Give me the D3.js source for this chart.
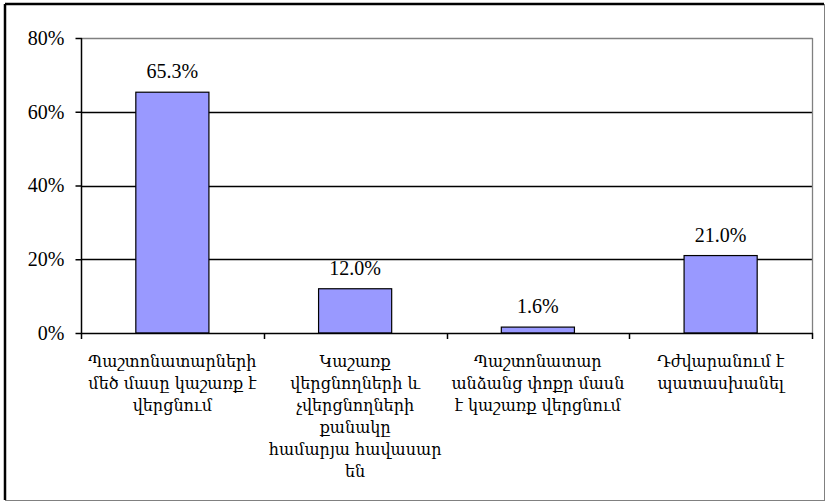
<!DOCTYPE html>
<html>
<head>
<meta charset="utf-8">
<script src="https://cdn.jsdelivr.net/npm/d3@7"></script>
<style>
  html, body { margin: 0; padding: 0; background: #fff; }
  svg { display: block; }
</style>
</head>
<body>
<svg id="chart" width="825" height="501"></svg>
<script>
// ---- data ----
const categories = ["c1", "c2", "c3", "c4"];
const categoryLines = [
  ["Պաշտոնատարների", "մեծ մասը կաշառք է", "վերցնում"],
  ["Կաշառք", "վերցնողների և", "չվերցնողների", "քանակը", "համարյա հավասար", "են"],
  ["Պաշտոնատար", "անձանց փոքր մասն", "է կաշառք վերցնում"],
  ["Դժվարանում է", "պատասխանել"]
];
const values = [65.3, 12.0, 1.6, 21.0];
const valueLabels = ["65.3%", "12.0%", "1.6%", "21.0%"];
const yTicks = [0, 20, 40, 60, 80];
const yTickLabels = ["0%", "20%", "40%", "60%", "80%"];

// ---- layout ----
const W = 825, H = 501;
const plot = { left: 81, right: 812, top: 38, bottom: 333 };
const serif = "'Liberation Serif', 'Times New Roman', 'DejaVu Serif', serif";
const armFont = "'DejaVu Serif', 'Liberation Serif', serif";

const svg = d3.select("#chart");

// outer frame
svg.append("rect").attr("x", 0).attr("y", 0).attr("width", W).attr("height", H).attr("fill", "#fff");
svg.append("line").attr("x1", 5).attr("x2", 824).attr("y1", 4).attr("y2", 4)
  .attr("stroke", "#000").attr("stroke-width", 2.5);
svg.append("line").attr("x1", 5).attr("x2", 5).attr("y1", 4).attr("y2", 500)
  .attr("stroke", "#000").attr("stroke-width", 2.5);
svg.append("line").attr("x1", 5).attr("x2", 825).attr("y1", 500.5).attr("y2", 500.5)
  .attr("stroke", "#808080").attr("stroke-width", 1);
svg.append("line").attr("x1", 824.5).attr("x2", 824.5).attr("y1", 4).attr("y2", 501)
  .attr("stroke", "#808080").attr("stroke-width", 1);

const x = d3.scaleBand().domain(categories).range([plot.left, plot.right])
  .paddingInner(0.6).paddingOuter(0.3);
const y = d3.scaleLinear().domain([0, 80]).range([plot.bottom, plot.top]);
const step = x.step();

// gridlines (20, 40, 60)
svg.append("g").selectAll("line").data(yTicks.filter(t => t > 0 && t < 80)).join("line")
  .attr("x1", plot.left).attr("x2", plot.right)
  .attr("y1", d => Math.round(y(d)) + 0.5).attr("y2", d => Math.round(y(d)) + 0.5)
  .attr("stroke", "#000").attr("stroke-width", 1.3);

// plot area border (top and right gray)
svg.append("line").attr("x1", plot.left).attr("x2", plot.right + 0.5)
  .attr("y1", plot.top + 0.5).attr("y2", plot.top + 0.5)
  .attr("stroke", "#808080").attr("stroke-width", 1.3);
svg.append("line").attr("x1", plot.right + 0.5).attr("x2", plot.right + 0.5)
  .attr("y1", plot.top).attr("y2", plot.bottom)
  .attr("stroke", "#808080").attr("stroke-width", 1.3);

// bars
svg.append("g").selectAll("rect").data(values).join("rect")
  .attr("x", (d, i) => x(categories[i]))
  .attr("y", d => y(d))
  .attr("width", x.bandwidth())
  .attr("height", d => plot.bottom - y(d))
  .attr("fill", "#9999FF")
  .attr("stroke", "#000").attr("stroke-width", 1.2);

// value labels
svg.append("g").selectAll("text").data(values).join("text")
  .attr("x", (d, i) => x(categories[i]) + x.bandwidth() / 2)
  .attr("y", d => y(d) - 14)
  .attr("text-anchor", "middle")
  .attr("font-family", serif).attr("font-size", 20)
  .attr("fill", "#000")
  .text((d, i) => valueLabels[i]);

// y axis
const yAxis = d3.axisLeft(y).tickValues(yTicks).tickSize(6).tickPadding(11)
  .tickFormat((d, i) => yTickLabels[i]);
const gy = svg.append("g").attr("transform", `translate(${plot.left + 0.5},0)`).call(yAxis);
gy.select(".domain").attr("stroke", "#000").attr("stroke-width", 1.5).attr("d", `M0,${plot.top}V${plot.bottom}`);
gy.selectAll(".tick line").attr("stroke", "#000").attr("stroke-width", 1.5);
gy.selectAll(".tick text").attr("font-family", serif).attr("font-size", 20).attr("fill", "#000");

// x axis line
svg.append("line").attr("x1", plot.left).attr("x2", plot.right + 1)
  .attr("y1", plot.bottom + 0.5).attr("y2", plot.bottom + 0.5)
  .attr("stroke", "#000").attr("stroke-width", 1.5);
// category boundary ticks
const bounds = [plot.left].concat(categories.map(c => x(c) + x.bandwidth() / 2 + step / 2));
svg.append("g").selectAll("line").data(bounds).join("line")
  .attr("x1", d => Math.round(d) + 0.5).attr("x2", d => Math.round(d) + 0.5)
  .attr("y1", plot.bottom).attr("y2", plot.bottom + 6)
  .attr("stroke", "#000").attr("stroke-width", 1.5);

// category labels
const lab = svg.append("g").selectAll("text").data(categoryLines).join("text")
  .attr("x", (d, i) => x(categories[i]) + x.bandwidth() / 2)
  .attr("y", 367)
  .attr("text-anchor", "middle")
  .attr("font-family", armFont).attr("font-size", 16)
  .attr("fill", "#000");
lab.selectAll("tspan").data(d => d).join("tspan")
  .attr("x", function() { return d3.select(this.parentNode).attr("x"); })
  .attr("dy", (d, i) => i === 0 ? 0 : 22)
  .text(d => d);
</script>
</body>
</html>
